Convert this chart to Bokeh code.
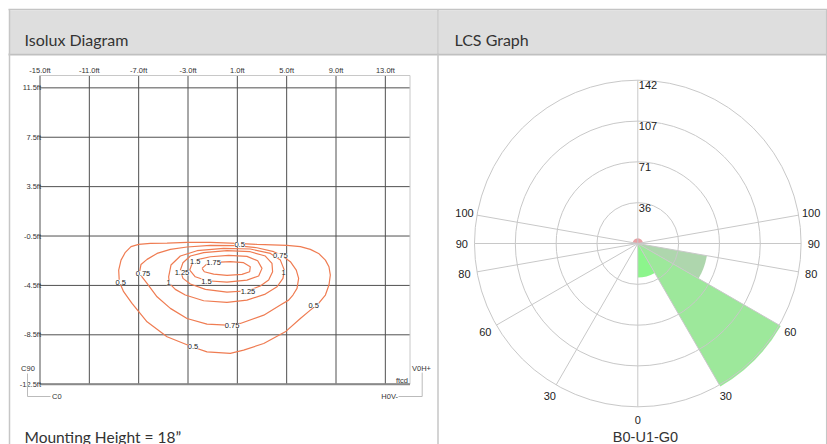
import math
from bokeh.plotting import figure
from bokeh.models import Range1d, ColumnDataSource, LabelSet
from bokeh.core.properties import value
from bokeh.embed import file_html
from bokeh.resources import INLINE

# ---------------- data: isolux diagram ----------------
x_ticks = [-15, -11, -7, -3, 1, 5, 9, 13]
x_tick_labels = ["-15.0ft", "-11.0ft", "-7.0ft", "-3.0ft", "1.0ft", "5.0ft", "9.0ft", "13.0ft"]
y_ticks = [11.5, 7.5, 3.5, -0.5, -4.5, -8.5, -12.5]
y_tick_labels = ["11.5ft", "7.5ft", "3.5ft", "-0.5ft", "-4.5ft", "-8.5ft", "-12.5ft"]
x_extent = [-15, 15]
y_extent = [-12.5, 12.5]

c050_x = [-7.0, -6.05, -4.70, -3.08, -1.19, 0.97, 2.59, 5.03, 6.11, 6.92, 7.59, 8.14, 8.43, 8.54, 8.43, 8.14, 7.59, 6.92,
          6.11, 4.89, 3.14, 1.51, 0.43, -1.46, -2.68, -4.70, -6.32, -7.54, -8.22, -8.57, -8.62, -8.43, -8.08, -7.62, -7.0]
c050_y = [-1.18, -1.09, -1.07, -1.01, -1.01, -1.09, -1.18, -1.26, -1.36, -1.58, -1.91, -2.45, -2.99, -3.66, -4.47, -5.28,
          -5.96, -6.50, -7.18, -8.26, -9.20, -9.74, -10.01, -9.88, -9.47, -8.66, -7.45, -5.96, -5.01, -4.20, -3.26, -2.45,
          -1.82, -1.36, -1.18]
c075_x = [-6.92, -6.81, -6.32, -5.51, -4.43, -3.08, -1.19, 0.97, 2.59, 3.95, 4.62, 5.30, 5.78, 5.97, 5.84, 5.51, 5.16,
          4.49, 3.14, 1.24, 0.16, -1.46, -3.08, -4.43, -5.51, -6.32, -6.73, -6.92]
c075_y = [-3.39, -2.80, -2.39, -1.91, -1.58, -1.39, -1.26, -1.28, -1.45, -1.77, -2.09, -2.58, -3.26, -3.93, -4.74, -5.28,
          -5.69, -6.09, -6.91, -7.58, -7.72, -7.64, -7.18, -6.36, -5.42, -4.34, -3.80, -3.39]
c100_x = [-4.57, -4.38, -3.62, -2.27, -0.11, 2.05, 3.68, 4.49, 4.81, 4.70, 4.22, 3.27, 1.78, 0.16, -1.73, -3.22, -4.03,
          -4.51, -4.57]
c100_y = [-3.80, -2.85, -2.12, -1.69, -1.50, -1.55, -1.91, -2.45, -3.26, -3.93, -4.61, -5.20, -5.69, -5.88, -5.74, -5.28,
          -4.82, -4.34, -3.80]
c125_x = [-3.62, -3.41, -2.81, -1.73, 0.16, 2.05, 3.27, 3.81, 3.86, 3.54, 2.86, 1.86, 0.16, -1.59, -2.81, -3.41, -3.62]
c125_y = [-3.26, -2.66, -2.12, -1.85, -1.69, -1.77, -2.12, -2.72, -3.39, -4.07, -4.55, -4.93, -5.04, -4.82, -4.39, -3.93,
          -3.26]
c150_x = [-2.86, -2.68, -2.14, -1.19, 0.30, 1.78, 2.65, 3.0, 2.73, 1.78, 0.16, -1.46, -2.41, -2.86]
c150_y = [-3.26, -2.77, -2.39, -2.18, -2.07, -2.15, -2.50, -3.12, -3.74, -4.07, -4.23, -4.12, -3.80, -3.26]
c175_x = [-1.86, -1.51, -0.78, 0.43, 1.51, 2.05, 2.0, 1.38, 0.16, -0.92, -1.68, -1.86]
c175_y = [-3.12, -2.80, -2.64, -2.58, -2.66, -2.99, -3.39, -3.61, -3.69, -3.58, -3.39, -3.12]

contour_label_x = [1.19, 4.49, 4.76, -2.41, -0.92, -6.65, -3.49, -8.45, -4.57, -1.51, 1.86, 7.19, 0.57, -2.59]
contour_label_y = [-1.18, -2.09, -3.45, -2.58, -2.64, -3.53, -3.47, -4.25, -4.28, -4.15, -4.96, -6.09, -7.77, -9.47]
contour_label_text = ["0.5", "0.75", "1", "1.5", "1.75", "0.75", "1.25", "0.5", "1", "1.5", "1.25", "0.5", "0.75", "0.5"]

# ---------------- data: LCS graph ----------------
ring_values = [35.5, 71, 106.5, 142]
ring_labels = ["36", "71", "107", "142"]
spoke_angles = [0, 30, 60, 80, 90, 100]
spoke_labels = ["0", "30", "60", "80", "90", "100"]
zone_start = [0, 30, 60, 90]
zone_end = [30, 60, 80, 270]
zone_value = [29.5, 143.5, 61, 4.5]
zone_colors = ["#8cf58c", "#9de89b", "#aed6ad", "#e8a0a4"]

# ---------------- layout (canvas pixels) ----------------
W, H = 827, 444
GL, GR, GT, GB = 39.5, 409.5, 75.0, 383.7      # isolux grid box
PCX, PCY, PR = 637.3, 243.0, 163.3              # polar centre and outer ring radius

kx = (GR - GL) / (x_extent[1] - x_extent[0])
ky = (GB - GT) / (y_extent[1] - y_extent[0])
iso_x = Range1d(x_extent[0] - GL / kx, x_extent[0] + (W - GL) / kx)
iso_y = Range1d(y_extent[0] - (H - GB) / ky, y_extent[1] + GT / ky)
s = PR / ring_values[-1]
pol_x = Range1d(-PCX / s, (W - PCX) / s)
pol_y = Range1d(-(H - PCY) / s, PCY / s)

p = figure(width=W, height=H, x_range=Range1d(0, W), y_range=Range1d(H, 0),
           output_backend="svg", toolbar_location=None, tools="",
           min_border=0, x_axis_location=None, y_axis_location=None)
p.extra_x_ranges = {"iso_x": iso_x, "pol_x": pol_x}
p.extra_y_ranges = {"iso_y": iso_y, "pol_y": pol_y}
p.outline_line_color = None
p.grid.visible = False
p.background_fill_color = "white"
p.border_fill_color = "white"

ARIAL = value("Liberation Sans")
LATO = value("Lato")

# ---------------- panel chrome ----------------
p.quad(left=[9, 438.5], right=[437, 826], top=[10, 10], bottom=[53, 53], fill_color="#dedede", line_color=None)
p.segment(x0=[8], y0=[9], x1=[W], y1=[9], line_color="#c4c4c4", line_width=1.5)
p.segment(x0=[8], y0=[54], x1=[W], y1=[54], line_color="#c0c0c0", line_width=2)
p.segment(x0=[9, 437.5, 826.2], y0=[9, 9, 9], x1=[9, 437.5, 826.2], y1=[H, H, H], line_color="#c6c6c6",
          line_width=1.5)
p.text(x=[24, 454], y=[39.3, 39.3], text=["Isolux Diagram", "LCS Graph"], text_font=LATO,
       text_font_size="16px", text_color="#333333", text_baseline="alphabetic")
p.text(x=[24], y=[436], text=["Mounting Height = 18\u201d"], text_font=LATO, text_font_size="15.5px",
       text_color="#333333", text_baseline="alphabetic")
p.text(x=[645], y=[436.5], text=["B0-U1-G0"], text_font=ARIAL, text_font_size="14.5px",
       text_color="#333333", text_baseline="alphabetic", text_align="center")

# ---------------- isolux diagram ----------------
iso = dict(x_range_name="iso_x", y_range_name="iso_y")
nx, ny = len(x_ticks), len(y_ticks)
p.segment(x0=x_ticks, y0=[y_extent[0]] * nx, x1=x_ticks, y1=[y_extent[1]] * nx,
          line_color="#505050", line_width=1, **iso)
p.segment(x0=[x_extent[0]] * ny, y0=y_ticks, x1=[x_extent[1]] * ny, y1=y_ticks,
          line_color="#505050", line_width=1, **iso)
p.segment(x0=[x_extent[0], x_extent[1]], y0=[y_extent[1], y_extent[0]], x1=[x_extent[1], x_extent[1]],
          y1=[y_extent[1], y_extent[1]], line_color="#c8c8c8", line_width=1, **iso)
p.segment(x0=[x_extent[0]], y0=[y_extent[0]], x1=[x_extent[1]], y1=[y_extent[0]],
          line_color="#8a8a8a", line_width=2, **iso)

for cx, cy in [(c050_x, c050_y), (c075_x, c075_y), (c100_x, c100_y),
               (c125_x, c125_y), (c150_x, c150_y), (c175_x, c175_y)]:
    p.line(cx, cy, line_color="#ef7c52", line_width=1.2, **iso)

lab_src = ColumnDataSource(dict(x=contour_label_x, y=contour_label_y, t=contour_label_text))
p.add_layout(LabelSet(x="x", y="y", text="t", source=lab_src, text_font=ARIAL, text_font_size="7.5px",
                      text_color="#222222", text_align="center", text_baseline="middle",
                      background_fill_color="white", **iso))

p.text(x=x_ticks, y=[y_extent[1]] * nx, text=x_tick_labels, text_font=ARIAL, text_font_size="7.5px",
       text_color="#333333", text_align="center", text_baseline="bottom", y_offset=-1, **iso)
p.text(x=[x_extent[0]] * ny, y=y_ticks, text=y_tick_labels, text_font=ARIAL, text_font_size="7.5px",
       text_color="#333333", text_align="right", text_baseline="middle", x_offset=1, **iso)

# orientation markers (canvas pixels)
p.line(x=[27, 27, 50], y=[373, 396, 396], line_color="#bbbbbb", line_width=1)
p.line(x=[398, 421.7, 421.7], y=[396, 396, 372], line_color="#bbbbbb", line_width=1)
p.text(x=[27.5, 51.5, 421, 397.5, 407.5], y=[367.7, 396, 367.7, 396, 379.5],
       text=["C90", "C0", "V0H+", "H0V-", "ftcd"], text_align=["center", "left", "center", "right", "right"],
       text_font=ARIAL, text_font_size="7.5px", text_color="#333333", text_baseline="middle")

# ---------------- LCS polar graph ----------------
pol = dict(x_range_name="pol_x", y_range_name="pol_y")
p.wedge(x=0, y=0, radius=zone_value, start_angle=[a - 90 for a in zone_start],
        end_angle=[a - 90 for a in zone_end], start_angle_units="deg", end_angle_units="deg",
        fill_color=zone_colors, line_color=None, **pol)
p.circle(x=[0] * len(ring_values), y=[0] * len(ring_values), radius=ring_values,
         fill_color=None, line_color="#c8c8c8", line_width=1, **pol)
ray_angles = [a - 90 for a in spoke_angles] + [-90 - a for a in spoke_angles if a != 0] + [90]
p.ray(x=0, y=0, length=ring_values[-1], angle=ray_angles, angle_units="deg",
      line_color="#c8c8c8", line_width=1, **pol)

p.text(x=[0] * len(ring_values), y=ring_values, text=ring_labels, text_font=ARIAL, text_font_size="11px",
       text_color="#222222", text_align="left", text_baseline="top", x_offset=1, y_offset=1, **pol)

lab_r = ring_values[-1] * 1.078
sl_x, sl_y, sl_t = [], [], []
for a, t in zip(spoke_angles, spoke_labels):
    for side in ([1] if a == 0 else [1, -1]):
        sl_x.append(side * lab_r * math.sin(math.radians(a)))
        sl_y.append(-lab_r * math.cos(math.radians(a)))
        sl_t.append(t)
p.text(x=sl_x, y=sl_y, text=sl_t, text_font=ARIAL, text_font_size="11px", text_color="#222222",
       text_align="center", text_baseline="middle", **pol)

open("out.html", "w").write(file_html(p, INLINE))
